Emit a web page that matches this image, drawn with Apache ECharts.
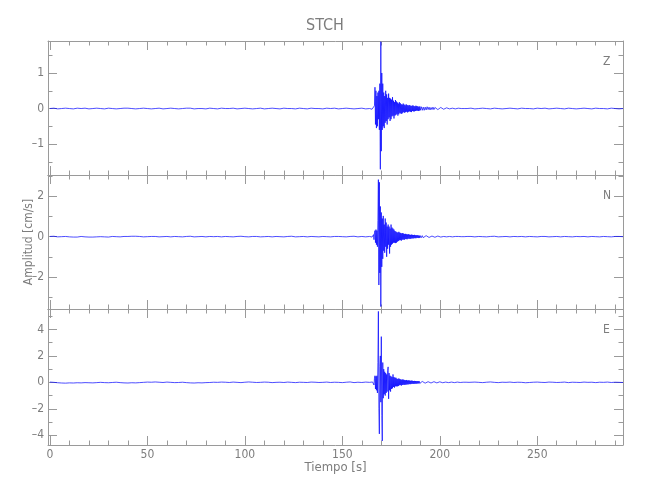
<!DOCTYPE html>
<html><head><meta charset="utf-8">
<script src="https://cdn.jsdelivr.net/npm/echarts@6/dist/echarts.min.js"></script>
<style>html,body{margin:0;padding:0;background:#fff}#c{width:650px;height:500px}</style>
</head><body><div id="c"></div>
<script>
// ---- data ----
const titleText = 'STCH';
const components = ['Z', 'N', 'E'];
// sampling (time in s) of each segment of the records
const noiseT0 = 0, noiseDt = 2;      // 0 .. 164 s
const ev1T0 = 165, ev1Dt = 0.25;     // 165 .. 190 s
const ev2T0 = 190.5, ev2Dt = 0.5;    // 190.5 .. 215 s
const tailT0 = 216, tailDt = 2;      // 216 .. 294 s

const zNoise = [0.00,0.01,-0.01,0.00,0.01,0.00,-0.01,0.01,0.00,0.01,
-0.01,0.00,0.01,0.00,-0.01,0.01,0.00,-0.01,0.00,0.01,
0.01,0.00,-0.01,0.00,0.01,0.00,-0.01,0.00,0.01,-0.01,
0.00,0.01,0.00,-0.01,0.00,0.01,0.01,-0.01,0.00,0.00,
-0.01,0.01,0.00,-0.01,0.01,0.00,0.00,0.01,-0.01,0.00,
0.01,0.00,-0.01,0.00,0.01,-0.01,0.00,0.01,0.00,-0.01,
0.01,0.00,0.00,-0.01,0.01,0.00,-0.01,0.01,0.00,0.00,
-0.01,0.01,0.00,0.01,-0.01,0.00,0.01,0.00,-0.01,0.00,
0.01,-0.01,0.00];
const zEv1 = [0.01,-0.02,0.02,-0.03,0.03,-0.05,0.08,0.6,-0.45,0.5,
-0.55,0.35,-0.5,0.45,-0.3,0.5,-0.6,0.7,-1.71,1.88,
-1.2,1.0,-0.6,0.7,-0.5,0.45,-0.55,0.35,-0.4,0.5,
-0.35,0.4,-0.45,0.3,-0.3,0.42,-0.25,0.3,-0.35,0.28,
-0.3,0.25,-0.22,0.32,-0.2,0.22,-0.28,0.18,-0.2,0.24,
-0.18,0.2,-0.15,0.17,-0.2,0.14,-0.16,0.18,-0.12,0.15,
-0.14,0.12,-0.15,0.11,-0.12,0.14,-0.1,0.11,-0.12,0.09,
-0.1,0.12,-0.09,0.1,-0.11,0.08,-0.09,0.1,-0.08,0.09,
-0.09,0.07,-0.1,0.08,-0.07,0.09,-0.08,0.07,-0.08,0.06,
-0.07,0.08,-0.06,0.07,-0.06,0.06,-0.07,0.05,-0.06,0.06,
-0.05];
const zEv2 = [0.05,-0.05,0.04,-0.05,0.04,-0.04,0.05,-0.03,0.04,-0.04,
0.03,-0.03,0.04,-0.03,0.03,-0.02,0.03,-0.03,0.02,-0.02,
0.03,-0.02,0.02,-0.02,0.02,-0.01,0.02,-0.02,0.01,-0.01,
0.02,-0.01,0.01,-0.01,0.01,-0.01,0.01,0.00,0.01,-0.01,
0.01,0.00,-0.01,0.01,0.00,-0.01,0.01,0.00,0.00,0.01];
const zTail = [0.01,-0.01,0.00,0.01,0.00,-0.01,0.01,0.00,-0.01,0.00,
0.01,0.00,-0.01,0.01,0.00,0.00,-0.01,0.01,0.00,0.01,
-0.01,0.00,0.01,0.00,-0.01,0.01,0.00,-0.01,0.00,0.01,
0.00,-0.01,0.01,0.00,0.00,-0.01,0.01,0.00,-0.01,0.00];

const nNoise = [0.01,0.02,-0.01,0.00,0.01,-0.01,-0.02,-0.02,0.01,-0.01,
-0.02,-0.02,-0.01,0.00,-0.01,-0.02,0.01,0.00,-0.01,0.01,
0.01,0.02,0.02,0.01,-0.01,0.00,0.01,0.01,-0.01,0.00,
0.01,-0.01,0.01,0.00,-0.01,0.01,0.02,-0.01,0.00,0.01,
-0.01,0.01,0.00,0.01,-0.01,0.01,0.00,-0.01,0.01,0.02,
0.00,-0.01,0.01,0.01,-0.01,0.00,0.01,-0.01,0.01,0.00,
-0.01,0.01,0.02,-0.01,0.00,0.01,-0.01,0.01,0.00,-0.01,
0.01,0.00,-0.01,0.01,0.01,0.00,-0.01,0.01,0.02,-0.01,
0.01,-0.01,0.01];
const nEv1 = [0.01,-0.02,0.03,-0.05,0.1,-0.15,0.2,0.3,-0.3,0.35,
-0.4,0.3,-0.5,0.8,2.83,-2.4,2.7,-1.8,1.5,-3.47,
1.2,-1.5,0.9,-1.1,1.03,-0.7,0.6,-0.8,0.9,-0.5,
0.7,-1.0,0.5,-0.6,0.6,-0.4,0.5,-0.84,0.4,-0.5,
0.6,-0.4,0.45,-0.35,0.4,-0.3,0.35,-0.3,0.28,-0.32,
0.25,-0.3,0.22,-0.25,0.2,-0.22,0.24,-0.18,0.2,-0.17,
0.18,-0.2,0.16,-0.15,0.18,-0.14,0.15,-0.16,0.13,-0.12,
0.14,-0.12,0.12,-0.13,0.11,-0.1,0.12,-0.1,0.1,-0.11,
0.09,-0.1,0.1,-0.08,0.09,-0.09,0.08,-0.08,0.09,-0.07,
0.07,-0.08,0.07,-0.06,0.07,-0.06,0.06,-0.07,0.05,-0.06,
0.05];
const nEv2 = [-0.05,0.05,-0.05,0.04,-0.04,0.05,-0.04,0.03,-0.04,0.03,
-0.03,0.03,-0.03,0.02,-0.03,0.02,-0.02,0.03,-0.02,0.02,
-0.02,0.02,-0.02,0.01,-0.02,0.02,-0.01,0.01,-0.02,0.01,
-0.01,0.01,-0.01,0.02,-0.01,0.01,-0.01,0.00,0.01,-0.01,
0.01,0.00,-0.01,0.01,0.00,-0.01,0.00,0.01,0.00,-0.01];
const nTail = [0.01,-0.01,0.01,0.00,-0.01,0.01,0.02,-0.01,0.00,0.01,
-0.01,0.01,0.00,0.01,-0.01,0.01,0.00,-0.01,0.01,0.01,
-0.01,0.00,0.01,-0.01,0.01,0.00,-0.01,0.01,0.00,0.01,
-0.01,0.01,0.00,-0.01,0.01,0.00,-0.01,0.01,0.01,0.00];

const eNoise = [0.02,0.00,-0.03,-0.05,-0.06,-0.04,-0.05,-0.03,-0.04,-0.02,
-0.03,-0.04,-0.02,0.00,-0.02,-0.03,-0.01,0.01,-0.02,-0.04,
-0.05,-0.03,-0.04,-0.02,0.00,0.02,0.01,0.03,0.01,-0.01,
0.02,0.00,-0.02,-0.01,0.01,-0.02,-0.04,-0.05,-0.03,-0.04,
-0.02,-0.01,0.01,0.00,0.02,0.01,-0.01,0.02,0.00,-0.02,
0.01,0.03,0.01,-0.01,0.00,0.02,0.01,-0.02,0.00,0.01,
-0.01,0.02,0.00,-0.02,0.01,0.00,-0.01,0.02,0.01,-0.01,
0.00,0.02,-0.01,0.01,0.00,-0.02,0.01,0.03,-0.02,0.01,
-0.01,0.02,0.00];
const eEv1 = [0.01,-0.02,0.03,-0.05,0.08,-0.2,0.3,0.5,-0.5,0.45,
-0.6,0.5,-0.8,1.5,5.37,-2.0,-3.9,1.2,2.0,-1.5,
3.46,-2.5,-4.43,1.5,-1.2,1.0,-0.9,0.8,-1.0,0.7,
-0.8,0.6,-0.7,0.9,1.17,-1.25,0.7,-0.6,0.5,-0.7,
0.45,-0.5,0.4,-0.45,0.6,-0.35,0.4,-0.4,0.35,-0.3,
0.35,-0.3,0.28,-0.3,0.25,-0.28,0.3,-0.22,0.25,-0.2,
0.22,-0.25,0.2,-0.2,0.22,-0.18,0.2,-0.19,0.17,-0.18,
0.16,-0.17,0.18,-0.15,0.14,-0.16,0.15,-0.13,0.14,-0.14,
0.12,-0.13,0.13,-0.11,0.12,-0.11,0.1,-0.12,0.11,-0.1,
0.1,-0.1,0.09,-0.1,0.09,-0.08,0.09,-0.08,0.08,-0.08,
0.07];
const eEv2 = [-0.07,0.07,-0.06,0.07,-0.06,0.06,-0.06,0.05,-0.05,0.06,
-0.05,0.05,-0.04,0.05,-0.04,0.04,-0.04,0.04,-0.03,0.04,
-0.03,0.03,-0.03,0.03,-0.03,0.02,-0.03,0.02,-0.02,0.02,
-0.02,0.02,-0.02,0.01,-0.02,0.01,-0.01,0.02,-0.01,0.01,
-0.01,0.01,-0.01,0.01,0.00,-0.01,0.01,0.00,-0.01,0.00];
const eTail = [-0.01,0.02,0.00,-0.02,0.01,0.03,0.00,-0.02,0.01,0.00,
0.02,-0.01,0.01,0.00,-0.03,-0.01,0.01,0.02,0.00,-0.01,
0.02,0.01,-0.01,0.00,0.02,-0.02,0.01,0.00,-0.01,0.02,
0.00,0.01,-0.02,0.01,0.00,0.02,-0.01,0.01,0.00,-0.01];

// axes
const xRange = [-1, 294];
const xMajor = [0, 50, 100, 150, 200, 250];
const xMinor = [10,20,30,40,60,70,80,90,110,120,130,140,160,170,180,190,210,220,230,240,260,270,280,290];
const yRanges = [[-1.87, 1.90], [-3.59, 3.06], [-4.74, 5.55]];
const yMajor = [[-1, 0, 1], [-2, 0, 2], [-4, -2, 0, 2, 4]];
const yMinor = [[-1.5, -0.5, 0.5, 1.5], [-3, -1, 1, 3], [-3, -1, 1, 3, 5]];
const xTitle = 'Tiempo [s]';
const yTitle = 'Amplitud [cm/s]';

// ---- build ----
const FONT = "'Liberation Sans Narrow','DejaVu Sans Condensed',sans-serif";
const AX = '#9a9a9a', TX = '#7d7d7d';
function build(noise, ev1, ev2, tail) {
  const d = [];
  noise.forEach((v, i) => d.push([noiseT0 + i * noiseDt, v]));
  ev1.forEach((v, i) => d.push([ev1T0 + i * ev1Dt, v]));
  ev2.forEach((v, i) => d.push([ev2T0 + i * ev2Dt, v]));
  tail.forEach((v, i) => d.push([tailT0 + i * tailDt, v]));
  return d;
}
const seriesData = [
  build(zNoise, zEv1, zEv2, zTail),
  build(nNoise, nEv1, nEv2, nTail),
  build(eNoise, eEv1, eEv2, eTail)
];

const gridTops = [41, 175, 309], gridHeights = [134, 134, 136];
const grids = gridTops.map((t, i) => ({ left: 48, right: 27, top: t, height: gridHeights[i] }));

const fmt = v => (v < 0 ? '\u2013' + Math.abs(v) : String(v));
const xAxes = [], yAxes = [], series = [];
for (let g = 0; g < 3; g++) {
  const mk = (pos, vals, len, line, labels) => ({
    type: 'value', gridIndex: g, position: pos, min: xRange[0], max: xRange[1],
    axisLine: { show: line, onZero: false, lineStyle: { color: AX, width: 1 } },
    axisTick: { show: true, inside: true, length: len, customValues: vals, lineStyle: { color: AX } },
    axisLabel: labels ? { show: true, customValues: xMajor, color: TX, fontFamily: FONT, fontSize: 12, margin: 4 } : { show: false },
    splitLine: { show: false }
  });
  const xb = mk('bottom', xMajor, 9, true, g === 2);
  if (g === 2) {
    xb.name = xTitle; xb.nameLocation = 'middle'; xb.nameGap = 16; xb.nameMoveOverlap = false;
    xb.nameTextStyle = { color: TX, fontFamily: FONT, fontSize: 13 };
  }
  xAxes.push(xb, mk('bottom', xMinor, 4.5, false, false), mk('top', xMajor, 9, true, false), mk('top', xMinor, 4.5, false, false));
  const mky = (pos, vals, len, line, labels) => ({
    type: 'value', gridIndex: g, position: pos, min: yRanges[g][0], max: yRanges[g][1],
    axisLine: { show: line, onZero: false, lineStyle: { color: AX, width: 1 } },
    axisTick: { show: true, inside: true, length: len, customValues: vals, lineStyle: { color: AX } },
    axisLabel: labels ? { show: true, customValues: yMajor[g], formatter: fmt, color: TX, fontFamily: FONT, fontSize: 12, margin: 4 } : { show: false },
    splitLine: { show: false }
  });
  const yl = mky('left', yMajor[g], 9, true, true);
  if (g === 1) {
    yl.name = yTitle; yl.nameLocation = 'middle'; yl.nameGap = 13; yl.nameMoveOverlap = false;
    yl.nameTextStyle = { color: TX, fontFamily: FONT, fontSize: 12 };
  }
  yAxes.push(yl, mky('left', yMinor[g], 4.5, false, false), mky('right', yMajor[g], 9, true, false), mky('right', yMinor[g], 4.5, false, false));
  series.push({
    type: 'line', xAxisIndex: g * 4, yAxisIndex: g * 4, data: seriesData[g],
    showSymbol: false, symbol: 'none', sampling: null,
    lineStyle: { color: '#0000ff', width: 0.7 }, animation: false, silent: true
  });
}

const chart = echarts.init(document.getElementById('c'), null, { renderer: 'canvas' });
chart.setOption({
  backgroundColor: '#ffffff',
  animation: false,
  title: { text: titleText, left: 'center', top: 13, textStyle: { color: TX, fontFamily: FONT, fontSize: 16, fontWeight: 'normal' } },
  grid: grids,
  xAxis: xAxes,
  yAxis: yAxes,
  series: series,
  graphic: components.map((c, i) => ({
    type: 'text', left: 603, top: gridTops[i] + 15,
    style: { text: c, fill: TX, font: '12px ' + FONT }
  }))
});
</script>
</body></html>
